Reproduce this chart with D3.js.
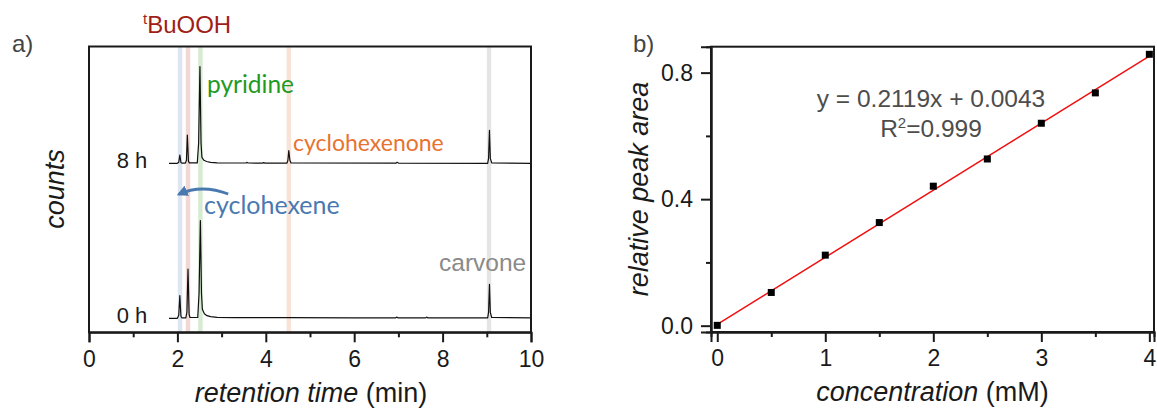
<!DOCTYPE html>
<html>
<head>
<meta charset="utf-8">
<script src="https://d3js.org/d3.v7.min.js"></script>
<style>
  body { margin: 0; background: #fff; }
  svg { display: block; font-family: "Liberation Sans", Arial, sans-serif; }
</style>
</head>
<body>
<svg id="chart" width="1157" height="409"></svg>
<script>
// ---- panel a: chromatograms (time in min, counts in arbitrary units) ----
var trace8h = [
  [1.81,0],[2.00,0],[2.03,1],[2.055,8.3],[2.08,0.8],[2.10,0.2],[2.18,0.2],[2.205,3],
  [2.225,28.3],[2.25,2],[2.27,0.4],[2.45,0.4],[2.48,20],[2.51,96.7],[2.535,20],[2.555,6],
  [2.60,3],[2.66,1.8],[2.75,1.0],[2.90,0.5],[3.20,0.3],[3.55,0.3],[3.57,0.9],[3.60,0.3],
  [3.93,0.2],[3.95,0.7],[3.98,0.2],[4.48,0.2],[4.50,3],[4.52,12.7],[4.545,3],[4.57,0.3],
  [6.95,0.2],[6.97,1.0],[7.00,0.2],[9.02,0],[9.04,5],[9.06,33],[9.08,5],[9.11,0.4],[10,0]
];
var trace0h = [
  [1.81,0],[2.00,0],[2.03,3],[2.055,22.7],[2.08,2],[2.10,0.5],[2.19,0.5],[2.215,6],
  [2.24,49.3],[2.265,4],[2.285,0.8],[2.46,0.8],[2.49,25],[2.52,97.7],[2.545,25],[2.565,9],
  [2.61,4.5],[2.67,2.6],[2.75,1.6],[2.90,1.0],[3.30,0.7],[4.50,0.6],[6.00,0.5],
  [6.94,0.5],[6.96,1.2],[6.99,0.5],[7.62,0.4],[7.64,1.2],[7.67,0.4],
  [9.02,0.4],[9.04,6],[9.06,34],[9.08,6],[9.11,0.8],[10,0.5]
];
var traceOffsets = [155, 0];
var traceLabels = ["8 h", "0 h"];

var bandTimes  = [2.06, 2.24, 2.52, 4.52, 9.05];
var bandColors = ["#dde5f0", "#f1d8d4", "#d6ebd2", "#f9e2d7", "#e5e5e5"];

var timeTicks = [0, 2, 4, 6, 8, 10];
var timeMinor = [1, 3, 5, 7, 9];

// ---- panel b: calibration ----
var concs = [0, 0.5, 1, 1.5, 2, 2.5, 3, 3.5, 4];
var areas = [0.001, 0.105, 0.223, 0.326, 0.441, 0.527, 0.640, 0.736, 0.858];
var fitSlope = 0.2119, fitIntercept = 0.0043;
var concTicks = [0, 1, 2, 3, 4];
var concMinor = [0.5, 1.5, 2.5, 3.5];
var areaTicks = [0, 0.4, 0.8];
var areaMinor = [0.2, 0.6];

var svg = d3.select("#chart");
var ink = "#1a1a1a";

// ================= panel a =================
var xA = d3.scaleLinear().domain([0, 10]).range([89, 531]);
var yA = d3.scaleLinear().domain([-14, 271.8]).range([332.3, 46.5]);

var pa = svg.append("g");

pa.selectAll("rect.band")
  .data(bandTimes)
  .enter().append("rect")
  .attr("class", "band")
  .attr("x", function(d) { return xA(d - 0.05); })
  .attr("width", xA(0.1) - xA(0))
  .attr("y", yA.range()[1])
  .attr("height", yA.range()[0] - yA.range()[1])
  .attr("fill", function(d, i) { return bandColors[i]; });

var lineA = d3.line()
  .x(function(d) { return xA(d[0]); });

[trace8h, trace0h].forEach(function(tr, i) {
  var off = traceOffsets[i];
  pa.append("path")
    .datum(tr)
    .attr("d", lineA.y(function(d) { return yA(d[1] + off); }))
    .attr("fill", "none")
    .attr("stroke", "#111")
    .attr("stroke-width", 1.2)
    .attr("stroke-linejoin", "round");
  pa.append("text")
    .attr("x", xA(1.32))
    .attr("y", yA(off) + 4.5)
    .attr("text-anchor", "end")
    .attr("font-size", 22)
    .attr("fill", ink)
    .text(traceLabels[i]);
});

// frame + axis
pa.append("rect")
  .attr("x", xA.range()[0]).attr("y", yA.range()[1])
  .attr("width", xA.range()[1] - xA.range()[0])
  .attr("height", yA.range()[0] - yA.range()[1])
  .attr("fill", "none").attr("stroke", ink).attr("stroke-width", 2);

var axA = pa.append("g")
  .attr("transform", "translate(0," + yA.range()[0] + ")")
  .call(d3.axisBottom(xA).tickValues(timeTicks).tickSize(10).tickPadding(8).tickFormat(d3.format("d")));
axA.select(".domain").attr("stroke-width", 2).attr("stroke", ink);
axA.selectAll(".tick line").attr("stroke-width", 2).attr("stroke", ink);
axA.selectAll("text").attr("font-size", 23).attr("font-family", "Liberation Sans, Arial, sans-serif").attr("fill", ink);

var axAm = pa.append("g")
  .attr("transform", "translate(0," + yA.range()[0] + ")")
  .call(d3.axisBottom(xA).tickValues(timeMinor).tickSize(5).tickFormat(""));
axAm.select(".domain").remove();
axAm.selectAll(".tick line").attr("stroke-width", 2).attr("stroke", ink);

// titles
var tA = pa.append("text")
  .attr("x", 311).attr("y", 401.7)
  .attr("text-anchor", "middle")
  .attr("font-size", 27).attr("fill", ink);
tA.append("tspan").attr("font-style", "italic").text("retention time");
tA.append("tspan").text(" (min)");

pa.append("text")
  .attr("transform", "translate(63.5,189) rotate(-90)")
  .attr("text-anchor", "middle")
  .attr("font-size", 27).attr("font-style", "italic").attr("fill", ink)
  .text("counts");

pa.append("text")
  .attr("x", 12).attr("y", 52)
  .attr("font-size", 24).attr("fill", "#444")
  .text("a)");

// compound labels
var tb = pa.append("text")
  .attr("x", 143).attr("y", 33.3)
  .attr("font-size", 24).attr("fill", "#a01e16");
tb.append("tspan").attr("font-size", 15).attr("dy", -9).text("t");
tb.append("tspan").attr("dy", 9).text("BuOOH");

var compound = [
  { name: "pyridine",      x: 207, y: 93.3,  color: "#1e9a1e", font: "Lato, sans-serif", size: 24.5 },
  { name: "cyclohexenone", x: 293, y: 151.3, color: "#e8722f", font: "Lato, sans-serif", size: 23 },
  { name: "cyclohexene",   x: 204, y: 214,   color: "#4a79b0", font: "Lato, sans-serif", size: 25 },
  { name: "carvone",       x: 439, y: 270.7, color: "#8a8a8a", font: "Liberation Sans, Arial, sans-serif", size: 24.5 }
];
pa.selectAll("text.cmp")
  .data(compound)
  .enter().append("text")
  .attr("class", "cmp")
  .attr("x", function(d) { return d.x; })
  .attr("y", function(d) { return d.y; })
  .attr("font-family", function(d) { return d.font; })
  .attr("font-size", function(d) { return d.size; })
  .attr("fill", function(d) { return d.color; })
  .text(function(d) { return d.name; });

// curved arrow (cyclohexene consumed)
svg.append("defs").append("marker")
  .attr("id", "head")
  .attr("viewBox", "0 0 10 10")
  .attr("refX", 8).attr("refY", 5)
  .attr("markerWidth", 11).attr("markerHeight", 11)
  .attr("markerUnits", "userSpaceOnUse")
  .attr("orient", "auto")
  .append("path").attr("d", "M0,0 L10,5 L0,10 z").attr("fill", "#4a79b0");

var arrowPts = [[3.15, 124.3], [2.55, 134.5], [2.03, 124.0]];
var ap = d3.path();
ap.moveTo(xA(arrowPts[0][0]), yA(arrowPts[0][1]));
ap.quadraticCurveTo(xA(arrowPts[1][0]), yA(arrowPts[1][1]), xA(arrowPts[2][0]), yA(arrowPts[2][1]));
pa.append("path")
  .attr("d", ap.toString())
  .attr("fill", "none")
  .attr("stroke", "#4a79b0")
  .attr("stroke-width", 2.8)
  .attr("marker-end", "url(#head)");

// ================= panel b =================
var xB = d3.scaleLinear().domain([-0.058, 4.043]).range([711, 1154]);
var yB = d3.scaleLinear().domain([-0.02, 0.882]).range([332, 46.7]);

var pb = svg.append("g");

pb.append("rect")
  .attr("x", xB.range()[0]).attr("y", yB.range()[1])
  .attr("width", xB.range()[1] - xB.range()[0])
  .attr("height", yB.range()[0] - yB.range()[1])
  .attr("fill", "none").attr("stroke", ink).attr("stroke-width", 2);

var axBx = pb.append("g")
  .attr("transform", "translate(0," + yB.range()[0] + ")")
  .call(d3.axisBottom(xB).tickValues(concTicks).tickSize(10).tickPadding(8).tickFormat(d3.format("d")));
var axBxm = pb.append("g")
  .attr("transform", "translate(0," + yB.range()[0] + ")")
  .call(d3.axisBottom(xB).tickValues(concMinor).tickSize(5).tickFormat(""));
var axBy = pb.append("g")
  .attr("transform", "translate(" + xB.range()[0] + ",0)")
  .call(d3.axisLeft(yB).tickValues(areaTicks).tickSize(10).tickPadding(8).tickFormat(d3.format(".1f")));
var axBym = pb.append("g")
  .attr("transform", "translate(" + xB.range()[0] + ",0)")
  .call(d3.axisLeft(yB).tickValues(areaMinor).tickSize(5).tickFormat(""));
[axBx, axBxm, axBy, axBym].forEach(function(g) {
  g.select(".domain").attr("stroke-width", 2).attr("stroke", ink);
  g.selectAll(".tick line").attr("stroke-width", 2).attr("stroke", ink);
  g.selectAll("text").attr("font-size", 23).attr("font-family", "Liberation Sans, Arial, sans-serif").attr("fill", ink);
});

// fit line
pb.append("line")
  .attr("x1", xB(0)).attr("y1", yB(fitIntercept))
  .attr("x2", xB(4)).attr("y2", yB(fitSlope * 4 + fitIntercept))
  .attr("stroke", "#f01010").attr("stroke-width", 1.5);

// points
pb.selectAll("rect.pt")
  .data(concs)
  .enter().append("rect")
  .attr("class", "pt")
  .attr("x", function(d) { return xB(d) - 3.5; })
  .attr("y", function(d, i) { return yB(areas[i]) - 3.5; })
  .attr("width", 7).attr("height", 7)
  .attr("fill", "#000");

// equation
pb.append("text")
  .attr("x", 931).attr("y", 106.7)
  .attr("text-anchor", "middle")
  .attr("font-size", 24.5).attr("fill", "#4d4d4d")
  .text("y = 0.2119x + 0.0043");
var r2 = pb.append("text")
  .attr("x", 931).attr("y", 136.7)
  .attr("text-anchor", "middle")
  .attr("font-size", 24.5).attr("fill", "#4d4d4d");
r2.append("tspan").text("R");
r2.append("tspan").attr("font-size", 15).attr("dy", -9).text("2");
r2.append("tspan").attr("dy", 9).text("=0.999");

// titles
var tB = pb.append("text")
  .attr("x", 932.5).attr("y", 401)
  .attr("text-anchor", "middle")
  .attr("font-size", 27).attr("fill", ink);
tB.append("tspan").attr("font-style", "italic").text("concentration");
tB.append("tspan").text(" (mM)");

pb.append("text")
  .attr("transform", "translate(648,189) rotate(-90)")
  .attr("text-anchor", "middle")
  .attr("font-size", 27).attr("font-style", "italic").attr("fill", ink)
  .text("relative peak area");

pb.append("text")
  .attr("x", 633).attr("y", 52)
  .attr("font-size", 24).attr("fill", "#444")
  .text("b)");
</script>
</body>
</html>
